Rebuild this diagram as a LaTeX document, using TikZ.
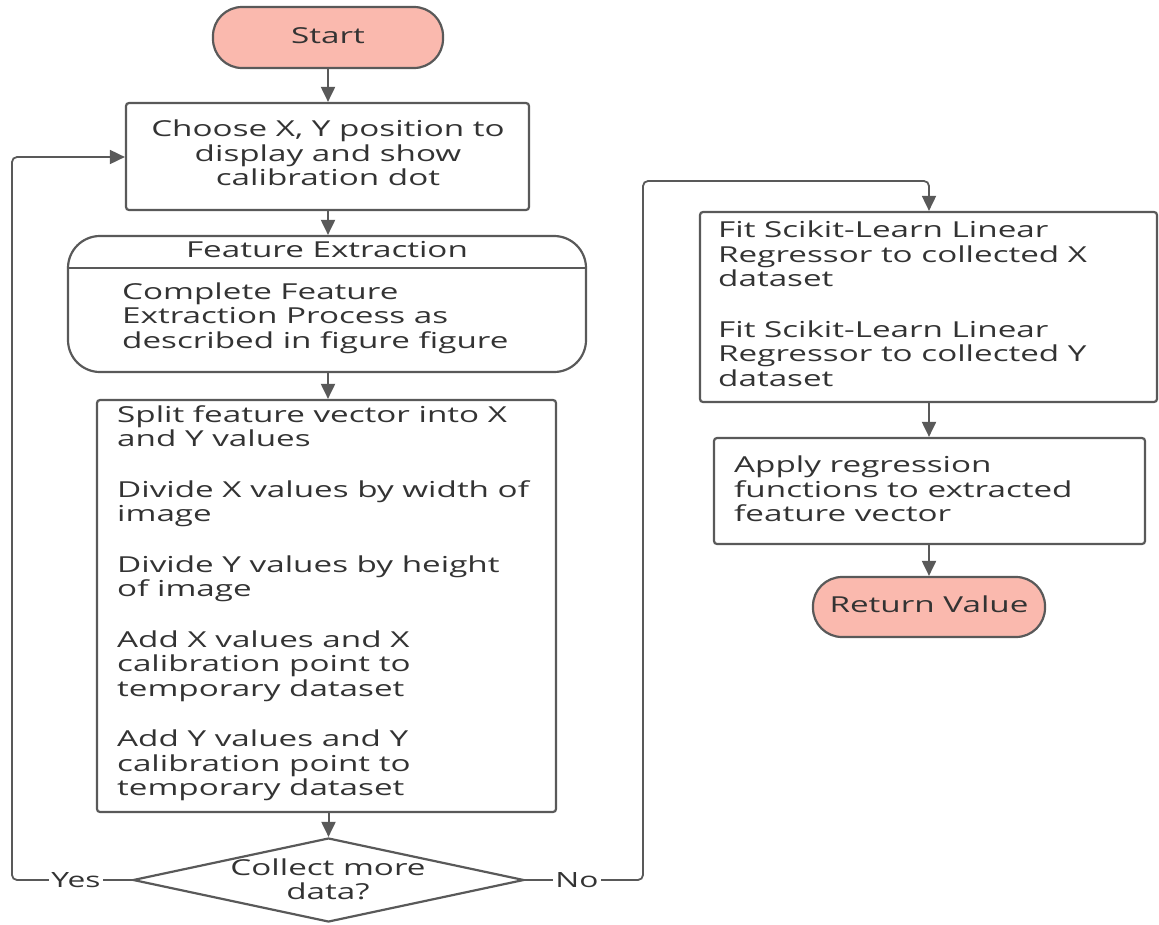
\documentclass[tikz,border=0pt]{standalone}
\usepackage{fontspec}
\setmainfont[FakeStretch=1.51]{Open Sans}
\usetikzlibrary{shapes.geometric,arrows.meta}
\definecolor{ln}{HTML}{595959}
\definecolor{tx}{HTML}{333333}
\definecolor{termfill}{HTML}{FAB9AE}
\begin{document}
\begin{tikzpicture}[x=1pt,y=-1pt,
  every node/.style={font=\fontsize{22}{24.5}\selectfont, text=tx, inner sep=0pt},
  box/.style={draw=ln, line width=2.2pt, rounded corners=3pt, rectangle},
  termbox/.style={draw=ln, line width=2.2pt, fill=termfill, rounded corners=29pt, rectangle},
  conn/.style={draw=ln, line width=2pt, -{Triangle[length=15pt,width=14pt]}},
  loopline/.style={draw=ln, line width=1.8pt, rounded corners=5pt},
  lbl/.style={fill=white, inner xsep=2pt, inner ysep=1pt}
]
\useasboundingbox (0,0) rectangle (1159,924);

% nodes
\node[termbox, minimum width=230pt, minimum height=61pt] (start) at (328,37.5) {};
\node (starttext) at (328,36) {Start};

\node[box, minimum width=403pt, minimum height=107pt] (choose) at (327.5,156.5) {};
\node[align=center] (choosetext) at (328,153) {Choose X, Y position to\\display and show\\calibration dot};

\node[box, rounded corners=32pt, minimum width=518pt, minimum height=136pt] (fe) at (327,304) {};
\draw[draw=ln, line width=2pt] (fe.west |- 0,268) -- (fe.east |- 0,268);
\node (fetitle) at (327,250) {Feature Extraction};
\node[align=left, anchor=west] (febody) at (122,318) {Complete Feature\\Extraction Process as\\described in figure figure};

\node[box, minimum width=459pt, minimum height=412pt] (split) at (326.5,606) {};
\node[align=left, anchor=west] (splittext) at (117,603) {Split feature vector into X\\and Y values\\[26pt]Divide X values by width of\\image\\[26pt]Divide Y values by height\\of image\\[26pt]Add X values and X\\calibration point to\\temporary dataset\\[26pt]Add Y values and Y\\calibration point to\\temporary dataset};

\node[diamond, draw=ln, line width=2.2pt, minimum width=391pt, minimum height=84pt] (dec) at (328.5,880) {};
\node[align=center] (dectext) at (328,879.5) {Collect more\\data?};

\node[box, minimum width=457pt, minimum height=190pt] (fit) at (928.5,307) {};
\node[align=left, anchor=west] (fittext) at (718,303.5) {Fit Scikit-Learn Linear\\Regressor to collected X\\dataset\\[26pt]Fit Scikit-Learn Linear\\Regressor to collected Y\\dataset};

\node[box, minimum width=431pt, minimum height=106pt] (apply) at (929.5,491) {};
\node[align=left, anchor=west] (applytext) at (734,489) {Apply regression\\functions to extracted\\feature vector};

\node[termbox, minimum width=232pt, minimum height=60pt] (ret) at (929,607) {};
\node (rettext) at (929,604) {Return Value};

% connectors
\draw[conn] (start.south -| 328,0) -- (choose.north -| 328,0);
\draw[conn] (choose.south -| 328,0) -- (fe.north -| 328,0);
\draw[conn] (fe.south -| 328,0) -- (split.north -| 328,0);
\draw[conn] (split.south -| 328.5,0) -- (dec.north);
\draw[conn] (fit.south -| 929,0) -- (apply.north -| 929,0);
\draw[conn] (apply.south -| 929,0) -- (ret.north -| 929,0);

\coordinate (yl) at (12,880);
\coordinate (yt) at (12,157);
\draw[loopline, -{Triangle[length=15pt,width=14pt]}] (dec.west) -- (yl) -- (yt) -- (choose.west |- yt);
\node[lbl, font=\fontsize{21}{24}\selectfont] (yes) at (76,880) {Yes};

\coordinate (nl) at (643,880);
\coordinate (nt) at (643,181);
\coordinate (nr) at (929,181);
\draw[loopline, -{Triangle[length=15pt,width=14pt]}] (dec.east) -- (nl) -- (nt) -- (nr) -- (fit.north -| nr);
\node[lbl, font=\fontsize{21}{24}\selectfont] (no) at (577,880) {No};
\end{tikzpicture}
\end{document}
